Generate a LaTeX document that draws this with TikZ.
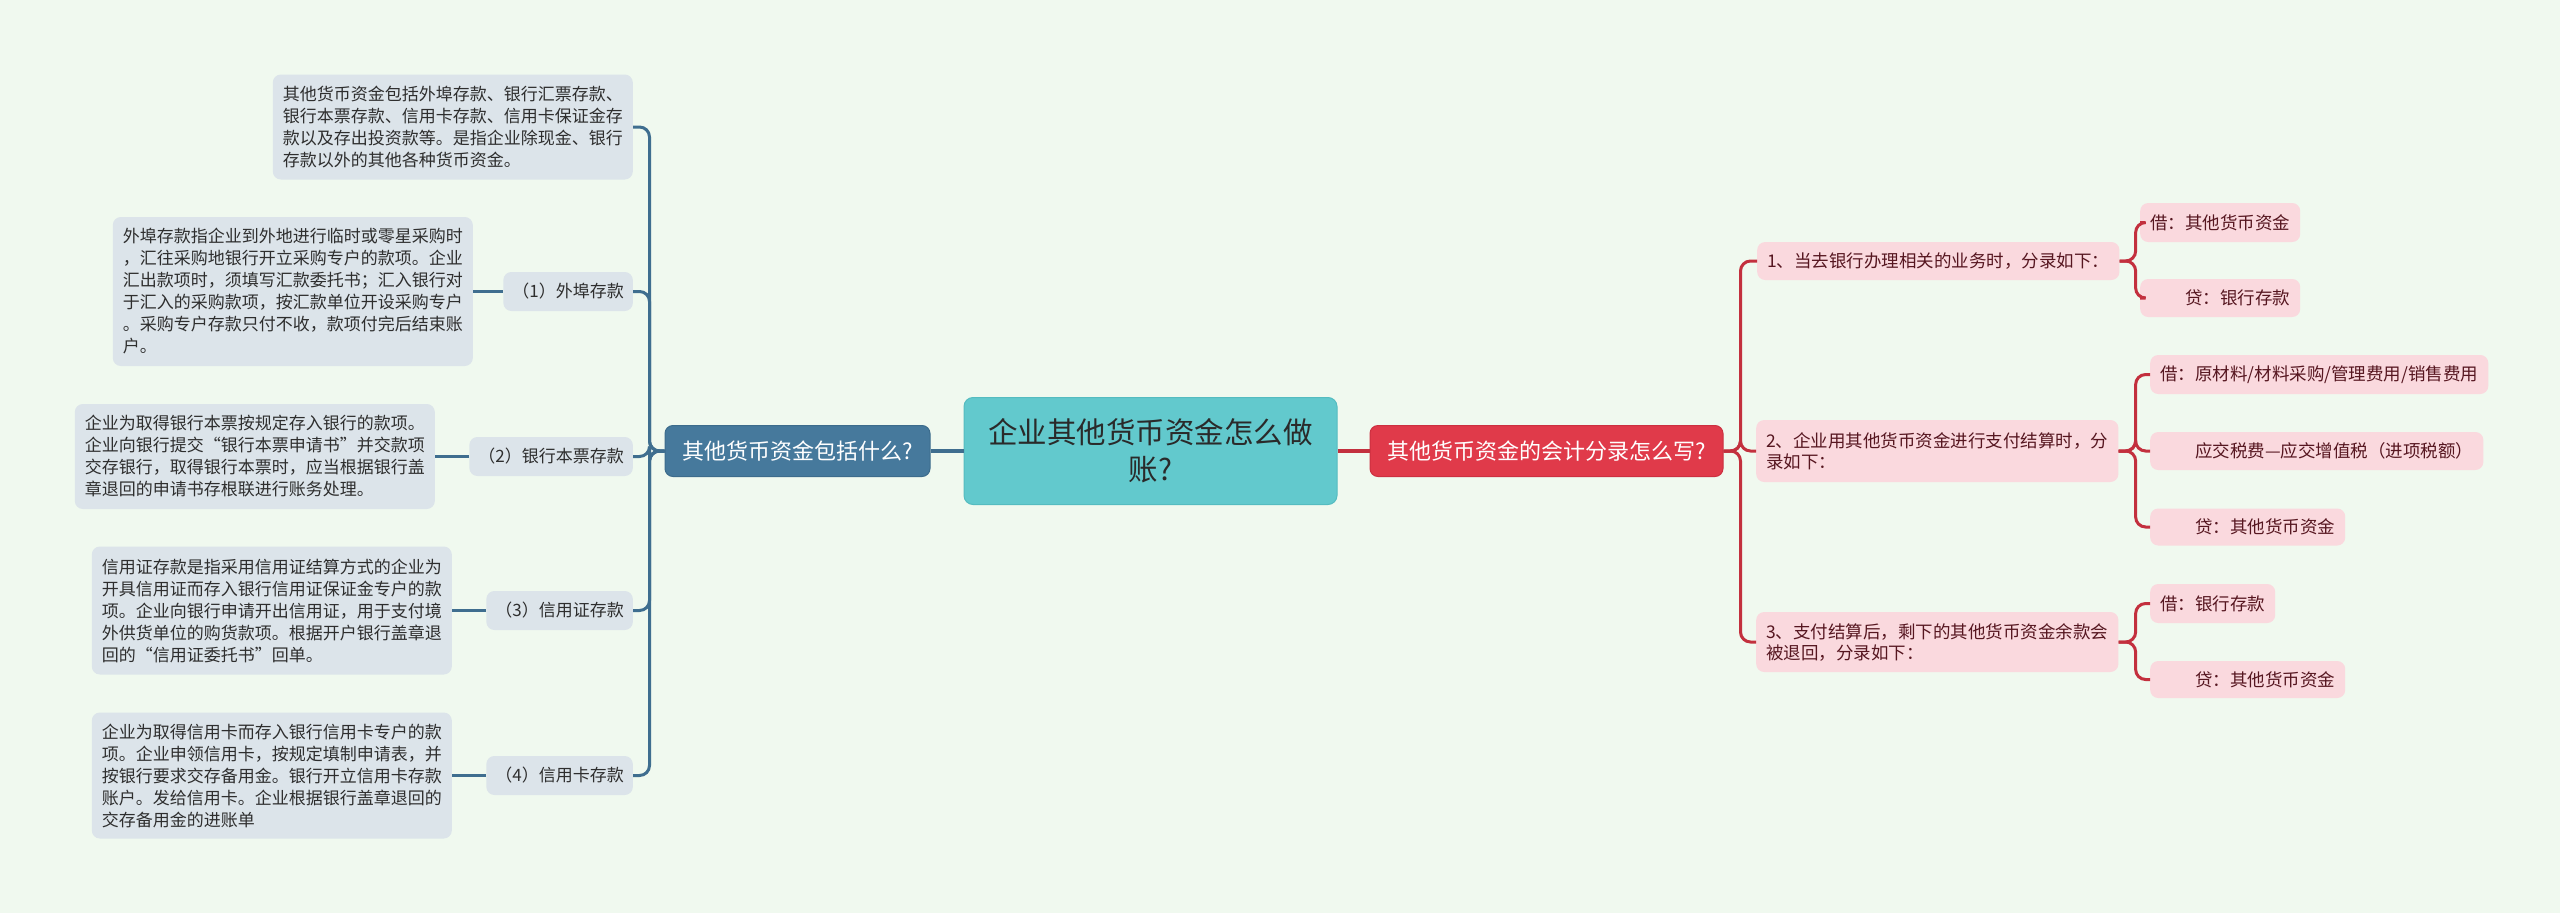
\documentclass[tikz,border=0pt]{standalone}
\usepackage{fontspec}
\newfontfamily\cjk{Noto Sans CJK SC}
\definecolor{bg}{HTML}{F0F9EF}
\definecolor{lbox}{HTML}{DCE4EA}
\definecolor{ltext}{HTML}{2E2E2E}
\definecolor{bline}{HTML}{3F6E8F}
\definecolor{bbr}{HTML}{46799C}
\definecolor{bbrd}{HTML}{3D6C8C}
\definecolor{cfill}{HTML}{62C9CD}
\definecolor{cdraw}{HTML}{55BCC0}
\definecolor{ctext}{HTML}{2A2A2A}
\definecolor{rbr}{HTML}{E03A4A}
\definecolor{rbrd}{HTML}{CC3040}
\definecolor{rline}{HTML}{C3303E}
\definecolor{rbox}{HTML}{FAD9DE}
\definecolor{rtext}{HTML}{561620}
\tikzset{
  ltxt/.style={font=\cjk\fontsize{17}{22}\selectfont, fill=lbox, text=ltext, rounded corners=8pt, inner xsep=10pt, inner ysep=0pt, align=left, anchor=east},
  lbl/.style={font=\cjk\fontsize{17}{22}\selectfont, fill=lbox, text=ltext, rounded corners=8pt, inner xsep=9pt, inner ysep=0pt, minimum height=39pt, anchor=east},
  bluebr/.style={font=\cjk\fontsize{22}{26}\selectfont, fill=bbr, draw=bbrd, line width=1pt, text=white, rounded corners=8pt, minimum width=265pt, minimum height=51pt, inner sep=0pt},
  redbr/.style={font=\cjk\fontsize{22}{26}\selectfont, fill=rbr, draw=rbrd, line width=1pt, text=white, rounded corners=8pt, minimum width=353pt, minimum height=51pt, inner sep=0pt},
  centre/.style={font=\cjk\fontsize{29.5}{37}\selectfont, fill=cfill, draw=cdraw, line width=1pt, text=ctext, rounded corners=9pt, minimum width=373pt, minimum height=107pt, inner sep=0pt, align=center},
  rtxt/.style={font=\cjk\fontsize{17.5}{21}\selectfont, fill=rbox, text=rtext, rounded corners=8pt, inner xsep=10pt, inner ysep=0pt, align=left, anchor=west},
  bconn/.style={draw=bline, line width=3pt, rounded corners=10pt},
  rconn/.style={draw=rline, line width=3pt, rounded corners=10pt},
}
\begin{document}
\begin{tikzpicture}[x=1pt,y=-1pt]
\fill[bg] (0,0) rectangle (2560,913);
\useasboundingbox (0,0) rectangle (2560,913);

% central and branches
\node[centre] (c) at (1150.5,451) {企业其他货币资金怎么做\\账?};
\node[bluebr] (lb) at (797.5,451) {其他货币资金包括什么?};
\node[redbr] (rb) at (1546.5,451) {其他货币资金的会计分录怎么写?};

% left side
\node[ltxt, minimum height=105pt] (top) at (633,127) {其他货币资金包括外埠存款、银行汇票存款、\\银行本票存款、信用卡存款、信用卡保证金存\\款以及存出投资款等。是指企业除现金、银行\\存款以外的其他各种货币资金。};
\node[lbl] (l1) at (633,291.5) {（1）外埠存款};
\node[lbl] (l2) at (633,456.5) {（2）银行本票存款};
\node[lbl] (l3) at (633,610.5) {（3）信用证存款};
\node[lbl] (l4) at (633,775.5) {（4）信用卡存款};
\node[ltxt, minimum height=149pt] (t1) at (473,291.5) {外埠存款指企业到外地进行临时或零星采购时\\，汇往采购地银行开立采购专户的款项。企业\\汇出款项时，须填写汇款委托书；汇入银行对\\于汇入的采购款项，按汇款单位开设采购专户\\。采购专户存款只付不收，款项付完后结束账\\户。};
\node[ltxt, minimum height=105pt] (t2) at (435,456.5) {企业为取得银行本票按规定存入银行的款项。\\企业向银行提交“银行本票申请书”并交款项\\交存银行，取得银行本票时，应当根据银行盖\\章退回的申请书存根联进行账务处理。};
\node[ltxt, minimum height=128pt] (t3) at (452,610.5) {信用证存款是指采用信用证结算方式的企业为\\开具信用证而存入银行信用证保证金专户的款\\项。企业向银行申请开出信用证，用于支付境\\外供货单位的购货款项。根据开户银行盖章退\\回的“信用证委托书”回单。};
\node[ltxt, minimum height=126pt] (t4) at (452,775.5) {企业为取得信用卡而存入银行信用卡专户的款\\项。企业申领信用卡，按规定填制申请表，并\\按银行要求交存备用金。银行开立信用卡存款\\账户。发给信用卡。企业根据银行盖章退回的\\交存备用金的进账单};

% right side
\node[rtxt, minimum height=38pt, minimum width=350pt] (r1) at (1757,261) {1、当去银行办理相关的业务时，分录如下：};
\node[rtxt, minimum height=62pt, minimum width=362pt] (r2) at (1756,451) {2、企业用其他货币资金进行支付结算时，分\\录如下：};
\node[rtxt, minimum height=60pt, minimum width=362pt] (r3) at (1756,642) {3、支付结算后，剩下的其他货币资金余款会\\被退回，分录如下：};
\node[rtxt, minimum height=39pt, minimum width=153pt] (r1a) at (2140,222.5) {借：其他货币资金};
\node[rtxt, minimum height=38pt, minimum width=160pt] (r1b) at (2140,298) {\hspace*{2em}贷：银行存款};
\node[rtxt, minimum height=39pt, minimum width=336pt] (r2a) at (2150,374.5) {借：原材料/材料采购/管理费用/销售费用};
\node[rtxt, minimum height=38pt, minimum width=333pt] (r2b) at (2150,451) {\hspace*{2em}应交税费—应交增值税（进项税额）};
\node[rtxt, minimum height=37pt, minimum width=194pt] (r2c) at (2150,527) {\hspace*{2em}贷：其他货币资金};
\node[rtxt, minimum height=39pt, minimum width=122pt] (r3a) at (2150,603.5) {借：银行存款};
\node[rtxt, minimum height=37pt, minimum width=194pt] (r3b) at (2150,679.5) {\hspace*{2em}贷：其他货币资金};

% connectors centre
\draw[bconn, line width=3.5pt] (c.west) -- (lb.east);
\draw[rconn, line width=3.5pt] (c.east) -- (rb.west);

% left connectors
\foreach \n in {top,l1,l2,l3,l4}{
  \draw[bconn] (lb.west) -- ++(-15,0) |- (\n.east);
}
\draw[bconn] (l1.west) -- (t1.east);
\draw[bconn] (l2.west) -- (t2.east);
\draw[bconn] (l3.west) -- (t3.east);
\draw[bconn] (l4.west) -- (t4.east);

% right connectors
\foreach \n in {r1,r2,r3}{
  \draw[rconn] (rb.east) -- ++(17,0) |- (\n.west);
}
\foreach \n in {r1a,r1b}{
  \draw[rconn] (r1.east) -- ++(16,0) |- (\n.west);
}
\foreach \n in {r2a,r2b,r2c}{
  \draw[rconn] (r2.east) -- ++(17,0) |- (\n.west);
}
\foreach \n in {r3a,r3b}{
  \draw[rconn] (r3.east) -- ++(17,0) |- (\n.west);
}
\end{tikzpicture}
\end{document}
